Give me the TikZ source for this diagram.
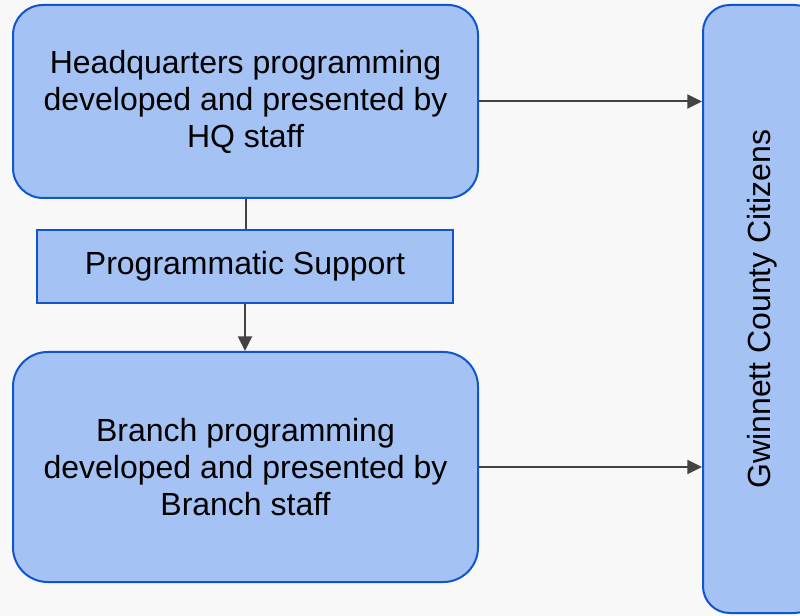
\documentclass[tikz,border=0pt]{standalone}
\usepackage{fontspec}
\setmainfont{Liberation Sans}
\usepackage{tikz}
\usetikzlibrary{arrows.meta}

\definecolor{boxfill}{HTML}{A4C2F4}
\definecolor{boxline}{HTML}{1155CC}
\definecolor{linkgray}{HTML}{434343}
\definecolor{pagebg}{HTML}{F8F8F8}

\tikzset{
	box/.style={draw=boxline, fill=boxfill, line width=1.5pt, align=center,
		inner sep=0pt, font=\fontsize{24}{27.75}\selectfont},
	link/.style={draw=linkgray, line width=1.5pt},
	tolink/.style={link, -{Triangle[length=11pt, width=10.5pt]}}
}

\begin{document}
\begin{tikzpicture}[x=0.75pt, y=-0.75pt]
		\fill[pagebg] (0,0) rectangle (800,616);
		\useasboundingbox (0,0) rectangle (800,616);
		\node[box, rounded corners=22.5pt, minimum width=348.75pt, minimum height=144.75pt]
			(hq) at (245.5,101.5) {Headquarters programming\\developed and presented by\\HQ staff};
		\node[box, minimum width=312pt, minimum height=54.75pt]
			(support) at (245,266.5) {Programmatic Support};
		\node[box, rounded corners=26pt, minimum width=348.75pt, minimum height=172.5pt]
			(branch) at (245.5,467) {Branch programming\\developed and presented by\\Branch staff};
		\node[box, rotate=90, rounded corners=20pt, minimum width=456pt, minimum height=88.5pt]
			(citizens) at (762,309) {Gwinnett County Citizens};
		\draw[link] (hq.south) -- (hq.south |- support.north);
		\draw[tolink] (support.south) -- (support.south |- branch.north);
		\draw[tolink] (hq.east) -- (hq.east -| citizens.north);
		\draw[tolink] (branch.east) -- (branch.east -| citizens.north);
		\end{tikzpicture}
\end{document}
